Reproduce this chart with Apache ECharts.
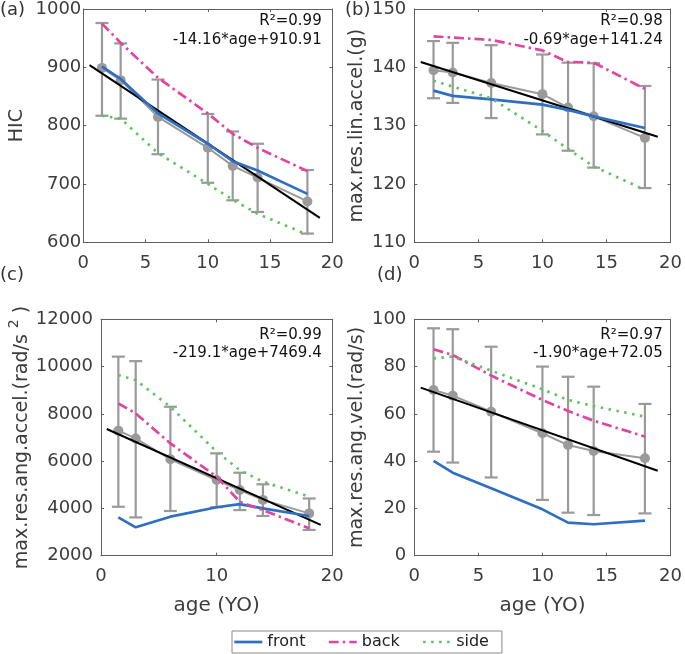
<!DOCTYPE html>
<html>
<head>
<meta charset="utf-8">
<script src="https://cdn.jsdelivr.net/npm/echarts@6/dist/echarts.min.js"></script>
<style>html,body{margin:0;padding:0;background:#fff;}#c{width:685px;height:654px;}</style>
</head>
<body>
<div id="c"></div>
<script>
// ---------- data ----------
const ages = [1.5, 3, 6, 10, 12, 14, 18];
const fitAges = [0.5, 19];

const hicMean  = [899, 878, 815, 762, 731, 711, 670];
const hicHigh  = [976, 941, 879, 820, 790, 769, 724];
const hicLow   = [817, 812, 751, 702, 672, 652, 615];
const hicFront = [901, 880, 821, 769, 739, 723, 683];
const hicBack  = [975, 942, 882, 821, 786, 762, 722];
const hicSide  = [817, 812, 753, 700, 673, 649, 613];
const hicFit   = [903.8, 641.9];

const linMean  = [139.5, 139.1, 137.3, 135.4, 133.1, 131.6, 127.9];
const linHigh  = [144.5, 144.2, 143.8, 142.2, 140.8, 140.7, 136.8];
const linLow   = [134.7, 133.9, 131.3, 128.5, 125.7, 122.8, 119.3];
const linFront = [136.0, 135.1, 134.5, 133.6, 132.7, 131.6, 129.6];
const linBack  = [145.3, 145.1, 144.7, 142.9, 140.9, 140.8, 136.3];
const linSide  = [137.7, 136.7, 134.7, 129.1, 126.0, 123.0, 119.0];
const linFit   = [140.9, 128.1];

const angMean  = [7290, 6960, 6080, 5200, 4780, 4360, 3790];
const angHigh  = [10420, 10230, 8300, 6330, 5510, 5020, 4420];
const angLow   = [4070, 3620, 3890, 4050, 3930, 3680, 3090];
const angFront = [3620, 3200, 3650, 4050, 4180, 4000, 3680];
const angBack  = [8440, 8020, 6750, 5340, 4280, 3930, 3160];
const angSide  = [9640, 9430, 8300, 6400, 5620, 5130, 4500];
const angFit   = [7359.8, 3306.5];

const velMean  = [70.1, 67.7, 60.9, 51.8, 46.8, 44.3, 41.2];
const velHigh  = [96.2, 95.8, 88.4, 80.0, 75.7, 71.5, 64.2];
const velLow   = [44.0, 39.4, 33.1, 23.6, 18.2, 17.2, 17.9];
const velFront = [40.1, 35.1, 28.5, 19.6, 14.0, 13.3, 14.8];
const velBack  = [87.3, 84.9, 76.2, 65.9, 61.2, 57.1, 50.4];
const velSide  = [83.5, 84.2, 78.3, 70.4, 65.9, 63.3, 58.8];
const velFit   = [71.1, 35.95];

const legendNames = ['front', 'back', 'side'];
const panelLabels = ['(a)', '(b)', '(c)', '(d)'];
const r2Texts = ['R\u00b2=0.99', 'R\u00b2=0.98', 'R\u00b2=0.99', 'R\u00b2=0.97'];
const eqTexts = ['-14.16*age+910.91', '-0.69*age+141.24', '-219.1*age+7469.4', '-1.90*age+72.05'];
const yNames = ['HIC', 'max.res.lin.accel.(g)', '{n|max.res.ang.accel.(rad/s }{s|2}{n| )}', 'max.res.ang.vel.(rad/s)'];
const xName = 'age (YO)';

// ---------- layout / style ----------
const FONT = 'DejaVu Sans';
const C_FRONT = '#2e6fc4', C_BACK = '#e0459f', C_SIDE = '#5ec45e', C_GRAY = '#9a9a9a';
const AX = '#5f5f5f', TXT = '#3c3c3c';

const panels = [
  {grid:{left:83.3, top:6, width:249, height:236.3}, ymin:600, ymax:1000, yint:100, xint:5, ylm:2, ngap:57, xname:false,
   mean:hicMean, hi:hicHigh, lo:hicLow, front:hicFront, back:hicBack, side:hicSide, fit:hicFit},
  {grid:{left:414.3, top:6, width:259, height:236.3}, ymin:110, ymax:150, yint:10, xint:5, ylm:8, ngap:48, xname:false,
   mean:linMean, hi:linHigh, lo:linLow, front:linFront, back:linBack, side:linSide, fit:linFit},
  {grid:{left:101, top:319.3, width:231.3, height:236.4}, ymin:2000, ymax:12000, yint:2000, xint:10, ylm:8, ngap:67, xname:true,
   mean:angMean, hi:angHigh, lo:angLow, front:angFront, back:angBack, side:angSide, fit:angFit},
  {grid:{left:414.3, top:319.3, width:259, height:236.4}, ymin:0, ymax:100, yint:20, xint:5, ylm:8, ngap:48, xname:true,
   mean:velMean, hi:velHigh, lo:velLow, front:velFront, back:velBack, side:velSide, fit:velFit}
];
const labelPos = [[0, 10], [345, 10], [0, 275], [377, 275]];

function errRender(params, api) {
  const x = api.value(0), lo = api.value(1), hi = api.value(2);
  const a = api.coord([x, lo]), b = api.coord([x, hi]);
  const w = 6.5;
  const st = {stroke: C_GRAY, lineWidth: 2.2, fill: null};
  return {type: 'group', children: [
    {type: 'line', shape: {x1: a[0], y1: a[1], x2: b[0], y2: b[1]}, style: st},
    {type: 'line', shape: {x1: a[0] - w, y1: a[1], x2: a[0] + w, y2: a[1]}, style: st},
    {type: 'line', shape: {x1: b[0] - w, y1: b[1], x2: b[0] + w, y2: b[1]}, style: st}
  ]};
}

const grids = [], xAxes = [], yAxes = [], series = [], graphics = [];
const axLine = {show: true, onZero: false, lineStyle: {color: AX, width: 1}};
const tick = {show: true, inside: true, length: 3, lineStyle: {color: AX, width: 1}};
const plain = v => String(v);

panels.forEach((p, k) => {
  grids.push(Object.assign({containLabel: false}, p.grid));
  const xb = {type: 'value', gridIndex: k, min: 0, max: 20, interval: p.xint, position: 'bottom',
    axisLine: axLine, axisTick: tick, splitLine: {show: false},
    axisLabel: {color: TXT, fontFamily: FONT, fontSize: 18, margin: 12, formatter: plain}};
  if (p.xname) Object.assign(xb, {name: xName, nameLocation: 'middle', nameGap: 40,
    nameTextStyle: {color: TXT, fontFamily: FONT, fontSize: 20}});
  xAxes.push(xb);
  xAxes.push({type: 'value', gridIndex: k, min: 0, max: 20, interval: p.xint, position: 'top',
    axisLine: axLine, axisTick: tick, axisLabel: {show: false}, splitLine: {show: false}});
  yAxes.push({type: 'value', gridIndex: k, min: p.ymin, max: p.ymax, interval: p.yint, position: 'left',
    axisLine: axLine, axisTick: tick, splitLine: {show: false},
    axisLabel: {color: TXT, fontFamily: FONT, fontSize: 18, margin: p.ylm, formatter: plain},
    name: yNames[k], nameLocation: 'middle', nameGap: p.ngap,
    nameTextStyle: {color: TXT, fontFamily: FONT, fontSize: 19,
      rich: {n: {color: TXT, fontFamily: FONT, fontSize: 19, lineHeight: 24, verticalAlign: 'bottom'},
             s: {color: TXT, fontFamily: FONT, fontSize: 14, lineHeight: 14, verticalAlign: 'top'}}}});
  yAxes.push({type: 'value', gridIndex: k, min: p.ymin, max: p.ymax, interval: p.yint, position: 'right',
    axisLine: axLine, axisTick: tick, axisLabel: {show: false}, splitLine: {show: false}});

  const xi = 2 * k, yi = 2 * k;
  series.push({type: 'custom', xAxisIndex: xi, yAxisIndex: yi, renderItem: errRender, z: 2,
    encode: {x: 0, y: [1, 2]}, data: ages.map((a, i) => [a, p.lo[i], p.hi[i]]), silent: true});
  series.push({type: 'line', xAxisIndex: xi, yAxisIndex: yi, z: 3, symbol: 'circle', symbolSize: 10,
    itemStyle: {color: C_GRAY}, lineStyle: {color: C_GRAY, width: 2},
    data: ages.map((a, i) => [a, p.mean[i]]), silent: true});
  series.push({type: 'line', xAxisIndex: xi, yAxisIndex: yi, z: 4, symbol: 'none',
    lineStyle: {color: '#000', width: 2}, data: fitAges.map((a, i) => [a, p.fit[i]]), silent: true});
  const styles = [
    {name: 'front', color: C_FRONT, type: 'solid', arr: p.front},
    {name: 'back', color: C_BACK, type: [10, 4, 2.5, 4], arr: p.back},
    {name: 'side', color: C_SIDE, type: [2.5, 5.5], arr: p.side}
  ];
  styles.forEach((s, j) => {
    series.push({type: 'line', name: s.name, xAxisIndex: xi, yAxisIndex: yi, z: 5 + j, symbol: 'none',
      itemStyle: {color: s.color}, lineStyle: {color: s.color, width: 2.7, type: s.type, cap: 'butt'},
      data: ages.map((a, i) => [a, s.arr[i]]), silent: true});
  });

  const right = p.grid.left + p.grid.width - 10.6;
  graphics.push({type: 'text', x: right, y: p.grid.top + 15.5,
    style: {text: r2Texts[k], fill: '#111', font: '15px "' + FONT + '"', textAlign: 'right', textVerticalAlign: 'middle'}});
  graphics.push({type: 'text', x: right, y: p.grid.top + 34,
    style: {text: eqTexts[k], fill: '#111', font: '15px "' + FONT + '"', textAlign: 'right', textVerticalAlign: 'middle'}});
  graphics.push({type: 'text', x: labelPos[k][0], y: labelPos[k][1],
    style: {text: panelLabels[k], fill: '#333', font: '18px "' + FONT + '"', textAlign: 'left', textVerticalAlign: 'middle'}});
});

const chart = echarts.init(document.getElementById('c'), null, {renderer: 'canvas'});
chart.setOption({
  animation: false,
  backgroundColor: '#fff',
  grid: grids,
  xAxis: xAxes,
  yAxis: yAxes,
  legend: {
    data: legendNames, left: 232, top: 631, orient: 'horizontal',
    padding: [3, 13, 3, 1], itemGap: 22, itemWidth: 28, itemHeight: 14,
    borderColor: '#8a8a8a', borderWidth: 1, backgroundColor: '#fff',
    itemStyle: {opacity: 0, borderWidth: 0},
    lineStyle: {width: 2.7},
    textStyle: {color: '#222', fontFamily: FONT, fontSize: 16, width: 50},
    selectedMode: false
  },
  graphic: graphics,
  series: series
});
</script>
</body>
</html>
